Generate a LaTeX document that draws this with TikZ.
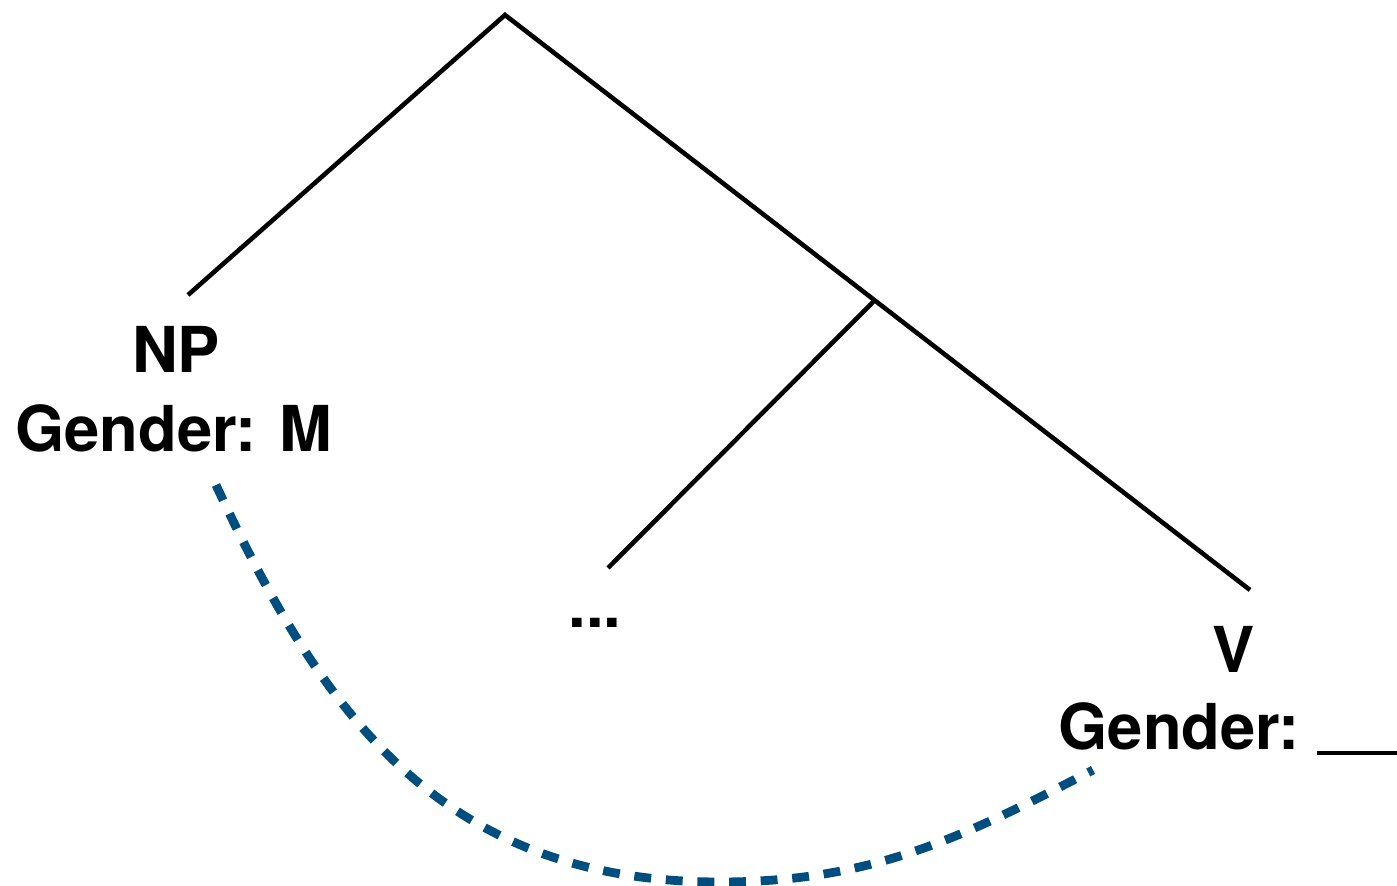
\documentclass[tikz,border=0pt]{standalone}
\usepackage{fontspec}
\setmainfont{TeX Gyre Heros}
\definecolor{agreeblue}{RGB}{0,77,128}
\begin{document}
\begin{tikzpicture}[x=0.01cm,y=-0.01cm,
  branch/.style={line width=1.3pt,line cap=butt},
  label/.style={font=\bfseries\fontsize{18}{22}\selectfont,inner sep=0pt,anchor=base},
  agree/.style={agreeblue,line width=2.5pt,dash pattern=on 4.8pt off 4.2pt}]
\useasboundingbox (0,0) rectangle (1397,886);
% tree skeleton
\coordinate (root) at (505,15);
\coordinate (vp) at (875,300);
\coordinate (npend) at (188,295);
\coordinate (dotsend) at (608,568);
\coordinate (vend) at (1250,590);
\draw[branch] (npend) -- (root) -- (vend);
\draw[branch] (vp) -- (dotsend);
% labels
\node[label] (np) at (176,373) {NP};
\node[label] (npgender) at (174,452) {Gender: M};
\node[label] (dots) at (595,628) {...};
\node[label] (v) at (1234,673) {V};
\node[label,anchor=base west] (vgender) at (1058,750) {Gender:\hspace{5pt}\rule[-1.5pt]{25pt}{1.1pt}};
% agreement arc
\coordinate (arcstart) at (216,485);
\coordinate (arcbottom) at (720,882);
\coordinate (arcend) at (1093,770);
\draw[agree] (arcstart) .. controls (321,712) and (440,882) .. (arcbottom)
  .. controls (870,882) and (960,839) .. (arcend);
\end{tikzpicture}
\end{document}
